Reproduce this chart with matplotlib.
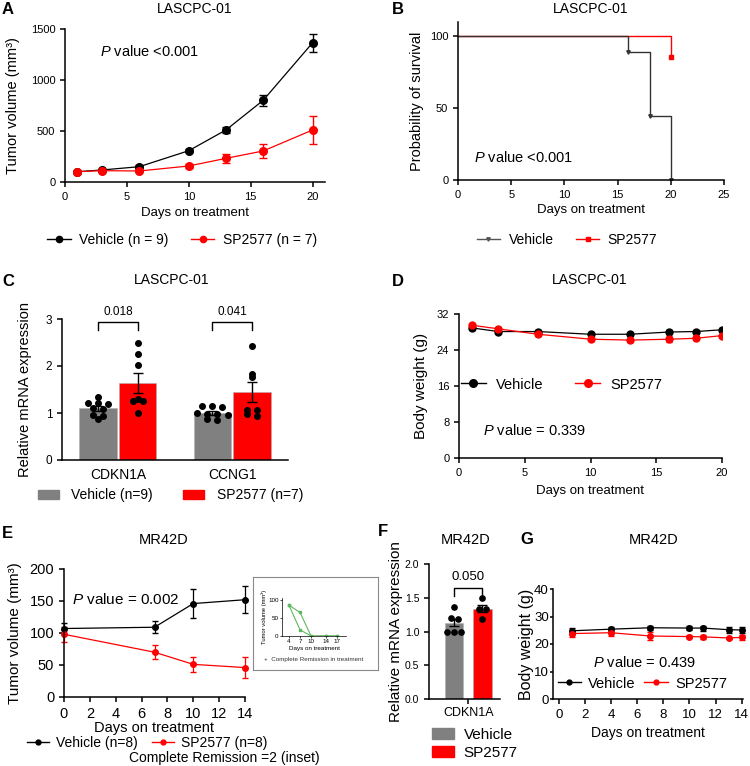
import matplotlib
matplotlib.use("Agg")
import matplotlib.pyplot as plt
import numpy as np
from matplotlib.patches import Patch
from matplotlib.lines import Line2D

plt.rcParams['font.family'] = ['Liberation Sans', 'DejaVu Sans']
plt.rcParams['mathtext.fontset'] = 'custom'
plt.rcParams['mathtext.rm'] = 'Liberation Sans'
plt.rcParams['mathtext.it'] = 'Liberation Sans:italic'
plt.rcParams['axes.linewidth'] = 1.1
plt.rcParams['xtick.major.width'] = 1.1
plt.rcParams['ytick.major.width'] = 1.1
plt.rcParams['xtick.major.size'] = 3.5
plt.rcParams['ytick.major.size'] = 3.5

RED = '#ff0000'
GRAY = '#808080'
W, H = 750, 766

# ---- data ----
# A: tumor volume LASCPC-01
a_days = [1, 3, 6, 10, 13, 16, 20]
a_veh = [101, 118, 150, 307, 510, 800, 1365]
a_veh_err = [8, 10, 12, 15, 30, 50, 88]
a_sp = [101, 111, 108, 157, 232, 304, 510]
a_sp_err = [6, 10, 10, 15, 45, 70, 140]

# B: survival
b_veh_t = [0, 16, 18, 20]
b_veh_s = [100, 88.9, 44.4, 0]
b_sp_t = [0, 20]
b_sp_s = [100, 85.7]

# C: mRNA LASCPC-01
c_genes = ['CDKN1A', 'CCNG1']
c_veh_pts = [[1.35, 1.22, 1.21, 1.20, 1.10, 1.08, 0.95, 0.93, 0.87],
             [1.14, 1.14, 1.13, 0.99, 0.98, 0.97, 0.96, 0.88, 0.85]]
c_sp_pts = [[2.48, 2.25, 2.02, 1.30, 1.25, 1.25, 1.00],
            [2.43, 1.82, 1.76, 1.07, 1.07, 0.98, 0.93]]
c_veh_mean = [1.10, 1.00]
c_veh_sem = [0.05, 0.04]
c_sp_mean = [1.64, 1.44]
c_sp_sem = [0.22, 0.21]
c_pvals = ['0.018', '0.041']

# D: body weight LASCPC-01
d_days = [1, 3, 6, 10, 13, 16, 18, 20]
d_veh = [28.9, 28.1, 28.1, 27.5, 27.5, 28.0, 28.1, 28.5]
d_veh_err = [0.4, 0.3, 0.3, 0.3, 0.3, 0.4, 0.3, 0.3]
d_sp = [29.5, 28.7, 27.5, 26.4, 26.2, 26.4, 26.6, 27.2]
d_sp_err = [0.3, 0.3, 0.4, 0.4, 0.4, 0.7, 0.4, 0.4]

# E: tumor volume MR42D
e_days = [0, 7, 10, 14]
e_veh = [107, 109, 146, 152]
e_veh_err = [8, 9, 23, 21]
e_sp = [98, 70, 51, 46]
e_sp_err = [12, 11, 12, 17]
inset_days = [4, 7, 10, 14, 17]
inset_m1 = [85, 65, 0, 0, 0]
inset_m2 = [85, 17, 0, 0, 0]

# F: mRNA MR42D
f_veh_pts = [1.36, 1.20, 1.19, 1.00, 1.00, 1.00]
f_sp_pts = [1.49, 1.33, 1.33, 1.19]
f_veh_mean, f_veh_sem = 1.13, 0.05
f_sp_mean, f_sp_sem = 1.34, 0.05

# G: body weight MR42D
g_days = [1, 4, 7, 10, 11, 13, 14]
g_veh = [24.8, 25.4, 25.9, 25.8, 25.8, 25.2, 25.1]
g_veh_err = [1.0, 0.8, 0.8, 0.8, 0.9, 1.1, 1.1]
g_sp = [23.8, 24.1, 22.9, 22.7, 22.6, 22.2, 22.4]
g_sp_err = [1.2, 1.3, 1.4, 0.5, 0.7, 0.4, 0.8]

fig = plt.figure(figsize=(7.5, 7.66), dpi=100)


def ax_px(l, t, r, b):
    ax = fig.add_axes([l / W, 1 - b / H, (r - l) / W, (b - t) / H])
    ax.spines['top'].set_visible(False)
    ax.spines['right'].set_visible(False)
    return ax


def ftext(x, y, s, **kw):
    kw.setdefault('ha', 'center')
    kw.setdefault('va', 'center')
    fig.text(x / W, 1 - y / H, s, **kw)


def swarm_x(center, vals, step, tol):
    vals = np.asarray(vals)
    order = np.argsort(-vals)
    rows = []
    for i in order:
        if rows and abs(vals[rows[-1][0]] - vals[i]) < tol:
            rows[-1].append(i)
        else:
            rows.append([i])
    xs = np.zeros(len(vals))
    for r in rows:
        n = len(r)
        for k, i in enumerate(r):
            xs[i] = center + (k - (n - 1) / 2) * step
    return xs


def letter(x, y, s):
    ftext(x, y, s, ha='left', fontsize=12, fontweight='bold')


def line_handles(ms, marker='o', c1='black', c2=RED):
    return [Line2D([], [], color=c1, marker=marker, ms=ms, lw=1),
            Line2D([], [], color=c2, marker=marker, ms=ms, lw=1)]


PV = r'$\it{P}$'

# ---- A ----
ax = ax_px(65, 29, 325, 182)
ax.errorbar(a_days, a_veh, yerr=a_veh_err, color='black', marker='o', ms=5.5,
            lw=0.9, capsize=3, elinewidth=1)
ax.errorbar(a_days, a_sp, yerr=a_sp_err, color=RED, marker='o', ms=5.5,
            lw=0.9, capsize=3, elinewidth=1)
ax.set_xlim(0, 21)
ax.set_ylim(0, 1500)
ax.set_xticks([0, 5, 10, 15, 20])
ax.set_yticks([0, 500, 1000, 1500])
ax.tick_params(labelsize=8)
ax.set_xlabel('Days on treatment', fontsize=9.5)
ax.xaxis.set_label_coords(0.5, -0.165)
ax.set_ylabel('Tumor volume (mm³)', fontsize=10.5)
ax.yaxis.set_label_coords(-0.173, 0.5)
ax.text(2.8, 1280, PV + ' value <0.001', fontsize=10.5, va='center')
ax.legend(line_handles(4.5), ['Vehicle (n = 9)', 'SP2577 (n = 7)'], loc='center',
          bbox_to_anchor=(0.45, -0.38), ncol=2, frameon=False,
          fontsize=10, handlelength=1.7, columnspacing=1.6, handletextpad=0.6)
ftext(195, 9, 'LASCPC-01', fontsize=10)
letter(2, 9, 'A')

# ---- B ----
ax = ax_px(458, 22, 724, 180)
ax.step(b_sp_t + [20], b_sp_s + [85.7], where='post', color=RED, lw=1)
ax.plot(b_sp_t[1:], b_sp_s[1:], ls='none', marker='s', ms=2.5, color=RED)
ax.step(b_veh_t, b_veh_s, where='post', color='#333333', lw=1)
ax.plot(b_veh_t[1:], b_veh_s[1:], ls='none', marker='v', ms=2.5, color='#333333')
ax.set_xlim(0, 25)
ax.set_ylim(0, 110)
ax.set_xticks([0, 5, 10, 15, 20, 25])
ax.set_yticks([0, 50, 100])
ax.tick_params(labelsize=8)
ax.set_xlabel('Days on treatment', fontsize=9.5)
ax.xaxis.set_label_coords(0.5, -0.15)
ax.set_ylabel('Probability of survival', fontsize=10.5)
ax.yaxis.set_label_coords(-0.128, 0.5)
ax.text(1.5, 16, PV + ' value <0.001', fontsize=10.5, va='center')
hb = [Line2D([], [], color='#555555', marker='v', ms=2.5, lw=1),
      Line2D([], [], color=RED, marker='s', ms=2.5, lw=1)]
ax.legend(hb, ['Vehicle', 'SP2577'], loc='center', bbox_to_anchor=(0.41, -0.38),
          ncol=2, frameon=False, fontsize=10, handlelength=1.7,
          columnspacing=1.6, handletextpad=0.6)
ftext(591, 9, 'LASCPC-01', fontsize=10)
letter(392, 9, 'B')


def bar_panel(ax, centers, veh_mean, veh_sem, sp_mean, sp_sem, veh_pts, sp_pts,
              off, bw, step, ms):
    for i, c in enumerate(centers):
        for x, m, s, pts, col in [(c - off, veh_mean[i], veh_sem[i], veh_pts[i], GRAY),
                                  (c + off, sp_mean[i], sp_sem[i], sp_pts[i], RED)]:
            ax.bar(x, m, width=bw, color=col, edgecolor='#b0b0b0', lw=0.4, zorder=1)
            ax.errorbar(x, m, yerr=s, color='black', capsize=3.5, elinewidth=1,
                        capthick=1, zorder=3)
            xs = swarm_x(x, pts, step, 0.05)
            ax.plot(xs, pts, ls='none', marker='o', ms=ms, color='black', zorder=4)


def bracket(ax, x1, x2, ylo, yhi, label, ty, fs):
    ax.plot([x1, x1, x2, x2], [ylo, yhi, yhi, ylo], color='black', lw=1,
            clip_on=False)
    ax.text((x1 + x2) / 2, ty, label, ha='center', va='center', fontsize=fs,
            clip_on=False)


# ---- C ----
ax = ax_px(62, 319, 288, 460)
bar_panel(ax, [0, 1], c_veh_mean, c_veh_sem, c_sp_mean, c_sp_sem,
          c_veh_pts, c_sp_pts, 0.175, 0.325, 0.09, 4)
for i in range(2):
    bracket(ax, i - 0.175, i + 0.175, 2.76, 2.94, c_pvals[i], 3.15, 8.5)
ax.set_xlim(-0.49, 1.49)
ax.set_ylim(0, 3)
ax.set_xticks([0, 1])
ax.set_xticklabels(c_genes, fontsize=10)
ax.tick_params(axis='x', length=0, pad=6)
ax.set_yticks([0, 1, 2, 3])
ax.tick_params(axis='y', labelsize=8.5)
ax.set_ylabel('Relative mRNA expression', fontsize=10.5)
ax.yaxis.set_label_coords(-0.133, 0.5)
hc = [Patch(color=GRAY), Patch(color=RED)]
ax.legend(hc, ['Vehicle (n=9)', 'SP2577 (n=7)'], loc='center',
          bbox_to_anchor=(0.48, -0.25), ncol=2, frameon=False, fontsize=10,
          handlelength=1.5, handleheight=0.6, columnspacing=2.2, handletextpad=0.9)
ftext(172, 280, 'LASCPC-01', fontsize=10)
letter(2, 281, 'C')

# ---- D ----
ax = ax_px(459, 314, 722, 458)
ax.errorbar(d_days, d_veh, yerr=d_veh_err, color='black', marker='o', ms=5,
            lw=0.9, capsize=2, elinewidth=1)
ax.errorbar(d_days, d_sp, yerr=d_sp_err, color=RED, marker='o', ms=5,
            lw=0.9, capsize=2, elinewidth=1)
ax.set_xlim(0, 20)
ax.set_ylim(0, 32)
ax.set_xticks([0, 5, 10, 15, 20])
ax.set_yticks([0, 8, 16, 24, 32])
ax.tick_params(labelsize=8)
ax.set_xlabel('Days on treatment', fontsize=9.5)
ax.xaxis.set_label_coords(0.5, -0.19)
ax.set_ylabel('Body weight (g)', fontsize=11)
ax.yaxis.set_label_coords(-0.118, 0.5)
ax.text(1.8, 6.2, PV + ' value = 0.339', fontsize=10.5, va='center')
ax.legend(line_handles(5.5), ['Vehicle', 'SP2577'], loc='center',
          bbox_to_anchor=(0.39, 0.51), ncol=2, frameon=False,
          fontsize=10.5, handlelength=1.7, columnspacing=2.2, handletextpad=0.7)
ftext(590, 280, 'LASCPC-01', fontsize=10)
letter(392, 281, 'D')

# ---- E ----
ax = ax_px(64, 569, 245, 697)
ax.errorbar(e_days, e_veh, yerr=e_veh_err, color='black', marker='o', ms=4,
            lw=0.9, capsize=2.5, elinewidth=0.9, clip_on=False)
ax.errorbar(e_days, e_sp, yerr=e_sp_err, color=RED, marker='o', ms=4,
            lw=0.9, capsize=2.5, elinewidth=0.9, clip_on=False)
ax.set_xlim(0, 14)
ax.set_ylim(0, 200)
ax.set_xticks(range(0, 15, 2))
ax.set_yticks([0, 50, 100, 150, 200])
ax.tick_params(labelsize=10.5)
ax.set_xlabel('Days on treatment', fontsize=10.5)
ax.xaxis.set_label_coords(0.5, -0.19)
ax.set_ylabel('Tumor volume (mm³)', fontsize=11)
ax.yaxis.set_label_coords(-0.232, 0.5)
ax.text(0.6, 152, PV + ' value = 0.002', fontsize=11, va='center')
ax.legend(line_handles(3.5), ['Vehicle (n=8)', 'SP2577 (n=8)'], loc='center',
          bbox_to_anchor=(0.46, -0.36), ncol=2, frameon=False,
          fontsize=10, handlelength=1.6, columnspacing=1.0, handletextpad=0.5)
ftext(224, 758, 'Complete Remission =2 (inset)', fontsize=10)
ftext(164, 540, 'MR42D', fontsize=10.5)
letter(2, 534, 'E')

# inset box
box = fig.add_axes([253 / W, 1 - 670 / H, 125 / W, 93 / H])
box.set_xticks([])
box.set_yticks([])
for s in box.spines.values():
    s.set_color('#8a8a8a')
    s.set_linewidth(0.8)
box.patch.set_alpha(0)
ins = ax_px(282, 598, 346, 636)
GREEN = '#5cb85c'
ins.plot(inset_days, inset_m1, color=GREEN, lw=0.8, marker='s', ms=1.5)
ins.plot(inset_days, inset_m2, color=GREEN, lw=0.8, marker='s', ms=1.5)
ins.set_xlim(2.1, 19.5)
ins.set_ylim(0, 105)
ins.set_xticks(inset_days)
ins.set_yticks([0, 50, 100])
for s in ins.spines.values():
    s.set_linewidth(0.5)
ins.tick_params(labelsize=4.5, length=1.5, width=0.5, pad=1)
ins.set_ylabel('Tumor volume (mm³)', fontsize=4.2, labelpad=1)
ins.set_xlabel('Days on treatment', fontsize=4.5, labelpad=1)
ftext(314, 660, '+  Complete Remission in treatment', fontsize=4.5, color='#333333')

# ---- F ----
ax = ax_px(429, 564, 500, 699)
bar_panel(ax, [0], [f_veh_mean], [f_veh_sem], [f_sp_mean], [f_sp_sem],
          [f_veh_pts], [f_sp_pts], 0.2, 0.26, 0.1, 3.8)
bracket(ax, -0.2, 0.2, 1.53, 1.64, '0.050', 1.80, 9.5)
ax.set_xlim(-0.56, 0.45)
ax.set_ylim(0, 2.0)
ax.set_xticks([0])
ax.set_xticklabels(['CDKN1A'], fontsize=9)
ax.tick_params(axis='x', pad=2)
ax.set_yticks([0, 0.5, 1.0, 1.5, 2.0])
ax.tick_params(axis='y', labelsize=7.5)
ax.set_ylabel('Relative mRNA expression', fontsize=11)
ax.yaxis.set_label_coords(-0.366, 0.5)
ax.legend(hc, ['Vehicle', 'SP2577'], loc='upper left', bbox_to_anchor=(-0.05, -0.17),
          frameon=False, fontsize=11, handlelength=1.5, handleheight=0.7,
          handletextpad=0.6, labelspacing=0.25, borderaxespad=0)
ftext(466, 540, 'MR42D', fontsize=10.5)
letter(378, 532, 'F')

# ---- G ----
ax = ax_px(553, 589, 743, 699)
ax.errorbar(g_days, g_veh, yerr=g_veh_err, color='black', marker='o', ms=4,
            lw=0.9, capsize=2.5, elinewidth=0.9, clip_on=False)
ax.errorbar(g_days, g_sp, yerr=g_sp_err, color=RED, marker='o', ms=4,
            lw=0.9, capsize=2.5, elinewidth=0.9, clip_on=False)
ax.set_xlim(-0.45, 14.1)
ax.set_ylim(0, 40)
ax.set_xticks(range(0, 15, 2))
ax.set_yticks([0, 10, 20, 30, 40])
ax.tick_params(labelsize=9.5)
ax.tick_params(axis='y', length=2.5, pad=0.5)
ax.set_xlabel('Days on treatment', fontsize=10)
ax.xaxis.set_label_coords(0.5, -0.25)
ax.set_ylabel('Body weight (g)', fontsize=11.5)
ax.yaxis.set_label_coords(-0.1, 0.5)
ax.text(2.6, 13.2, PV + ' value = 0.439', fontsize=10.5, va='center')
ax.legend(line_handles(3.5), ['Vehicle', 'SP2577'], loc='center',
          bbox_to_anchor=(0.47, 0.14), ncol=2, frameon=False,
          fontsize=10.5, handlelength=1.6, columnspacing=0.6, handletextpad=0.5,
          borderaxespad=0)
ftext(654, 540, 'MR42D', fontsize=10.5)
letter(520, 540, 'G')

fig.savefig('out.png', dpi=100)
